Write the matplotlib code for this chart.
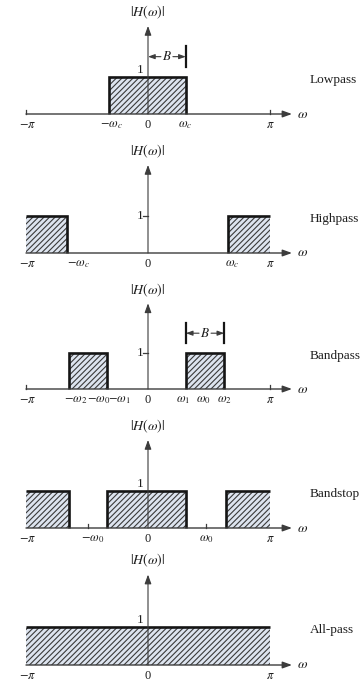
import matplotlib
matplotlib.use('Agg')
import matplotlib.pyplot as plt

plt.rcParams['mathtext.fontset'] = 'stix'
plt.rcParams['font.family'] = ['Liberation Serif', 'DejaVu Serif']
plt.rcParams['hatch.linewidth'] = 0.8

# ---------------- data (frequency in units of pi) ----------------
panel_names = ['Lowpass', 'Highpass', 'Bandpass', 'Bandstop', 'All-pass']
gain = 1.0

lowpass_bands = [(-0.32, 0.31)]
highpass_bands = [(-1.0, -0.665), (0.655, 1.0)]
bandpass_bands = [(-0.65, -0.335), (0.31, 0.625)]
bandstop_bands = [(-1.0, -0.645), (-0.335, 0.31), (0.64, 1.0)]
allpass_bands = [(-1.0, 1.0)]

lowpass_ticks = [-1.0, -0.32, 0.0, 0.31, 1.0]
lowpass_labels = [r'$-\pi$', r'$-\omega_c$', '0', r'$\omega_c$', r'$\pi$']
highpass_ticks = [-1.0, -0.665, 0.0, 0.655, 1.0]
highpass_labels = [r'$-\pi$', r'$-\omega_c$', '0', r'$\omega_c$', r'$\pi$']
bandpass_ticks = [-1.0, -0.65, -0.49, -0.335, 0.0, 0.31, 0.47, 0.625, 1.0]
bandpass_labels = [r'$-\pi$', r'$-\omega_2$', r'$-\omega_0$', r'$-\omega_1$', '0',
                   r'$\omega_1$', r'$\omega_0$', r'$\omega_2$', r'$\pi$']
bandstop_ticks = [-1.0, -0.49, 0.0, 0.475, 1.0]
bandstop_labels = [r'$-\pi$', r'$-\omega_0$', '0', r'$\omega_0$', r'$\pi$']
allpass_ticks = [-1.0, 0.0, 1.0]
allpass_labels = [r'$-\pi$', '0', r'$\pi$']

lowpass_B = (0.0, 0.31)
bandpass_B = (0.31, 0.625)

# ---------------- layout / style ----------------
W, H = 363, 681
PX_PER_PI = 122.0
X0_PX = 148.0
axis_px = [114, 253, 389, 528, 665]        # y pixel of omega axis
unit_px = [37, 37, 36, 37, 38]             # pixels per unit magnitude
label_dx = [
    [2, 2, 0, -1, 0],
    [2, 12, 0, 4, 0],
    [2, 7, 10, 12, 0, -3, -2, 0, 0],
    [2, 4, 0, 0, 0],
    [2, 0, 0],
]
FILL = '#dde4ef'
HATCH_C = '#3a3a3a'
EDGE = '#151515'
AX_C = '#3c3c3c'
TXT = '#1e1e1e'
FS = 9.0

panels = [
    (lowpass_bands, lowpass_ticks, lowpass_labels, [lowpass_B]),
    (highpass_bands, highpass_ticks, highpass_labels, []),
    (bandpass_bands, bandpass_ticks, bandpass_labels, [bandpass_B]),
    (bandstop_bands, bandstop_ticks, bandstop_labels, []),
    (allpass_bands, allpass_ticks, allpass_labels, []),
]

fig = plt.figure(figsize=(W / 100, H / 100), dpi=100)

for i, (bands, ticks, labels, bmarks) in enumerate(panels):
    below, above = 14, 112
    u = unit_px[i]
    bottom = 1 - (axis_px[i] + below) / H
    ax = fig.add_axes([0, bottom, 1, (below + above) / H])
    ax.set_xlim(-X0_PX / PX_PER_PI, (W - X0_PX) / PX_PER_PI)
    ax.set_ylim(-below / u, above / u)
    ax.axis('off')

    # bands: hatched fill then thick outline (no bottom, no edge at +-pi)
    for a, b in bands:
        ax.bar((a + b) / 2, gain, width=b - a, facecolor=FILL, edgecolor=HATCH_C,
               hatch='//////', linewidth=0, zorder=1)
        xs, ys = [], []
        if a > -1.0:
            xs.append(a); ys.append(0)
        xs += [a, b]; ys += [gain, gain]
        if b < 1.0:
            xs.append(b); ys.append(0)
        ax.plot(xs, ys, color=EDGE, lw=1.9, solid_joinstyle='miter',
                solid_capstyle='butt', zorder=3)

    # omega axis with arrow
    ax.annotate('', xy=(1.18, 0), xytext=(-1.0, 0),
                arrowprops=dict(arrowstyle='-|>,head_length=0.55,head_width=0.2',
                                color=AX_C, lw=1.0, mutation_scale=10,
                                shrinkA=0, shrinkB=0), zorder=4)
    ax.text(1.265, 0, r'$\omega$', ha='center', va='center', fontsize=10, color=TXT)

    # magnitude axis with arrow
    ax.annotate('', xy=(0, 2.38), xytext=(0, 0),
                arrowprops=dict(arrowstyle='-|>,head_length=0.55,head_width=0.2',
                                color=AX_C, lw=0.8, mutation_scale=10,
                                shrinkA=0, shrinkB=0), zorder=4)
    ax.text(0, 2.75, r'$|H(\omega)|$', ha='center', va='center', fontsize=10, color=TXT)

    # level 1 label
    covered = any(a < 0 < b for a, b in bands)
    if covered:
        ax.annotate('1', (0, gain), xytext=(-8, 7), textcoords='offset pixels',
                    ha='center', va='center', fontsize=9.5, color=TXT)
    else:
        ax.plot([-5 / PX_PER_PI, 0], [gain, gain], color=AX_C, lw=0.9, zorder=4)
        ax.annotate('1', (0, gain), xytext=(-8, 0), textcoords='offset pixels',
                    ha='center', va='center', fontsize=9.5, color=TXT)

    # tick labels and small tick marks
    for t, lab, dx in zip(ticks, labels, label_dx[i]):
        ax.annotate(lab, (t, 0), xytext=(dx, -11), textcoords='offset pixels',
                    ha='center', va='center', fontsize=FS, color=TXT)
        inside = any(a - 1e-9 <= t <= b + 1e-9 for a, b in bands)
        if t != 0 and not inside:
            ax.plot([t, t], [0, 4.5 / u], color=AX_C, lw=0.9, zorder=4)

    # bandwidth marker
    for x0, x1 in bmarks:
        yb = 1.55
        mid = (x0 + x1) / 2
        g = 6 / PX_PER_PI
        ax.text(mid, yb, r'$B$', ha='center', va='center', fontsize=9.5, color=TXT)
        for tgt, src in ((x0, mid - g), (x1, mid + g)):
            ax.annotate('', xy=(tgt, yb), xytext=(src, yb),
                        arrowprops=dict(arrowstyle='-|>,head_length=0.5,head_width=0.18',
                                        color=AX_C, lw=0.8, mutation_scale=8,
                                        shrinkA=0, shrinkB=0))
        ends = [x1] if x0 == 0 else [x0, x1]
        for e in ends:
            ax.plot([e, e], [yb - 0.27, yb + 0.28], color=EDGE, lw=1.6)

    # panel name
    ax.text((310 - X0_PX) / PX_PER_PI, 0.92, panel_names[i], ha='left', va='center',
            fontsize=9.5, color=TXT)

fig.savefig('out.png', dpi=100)
